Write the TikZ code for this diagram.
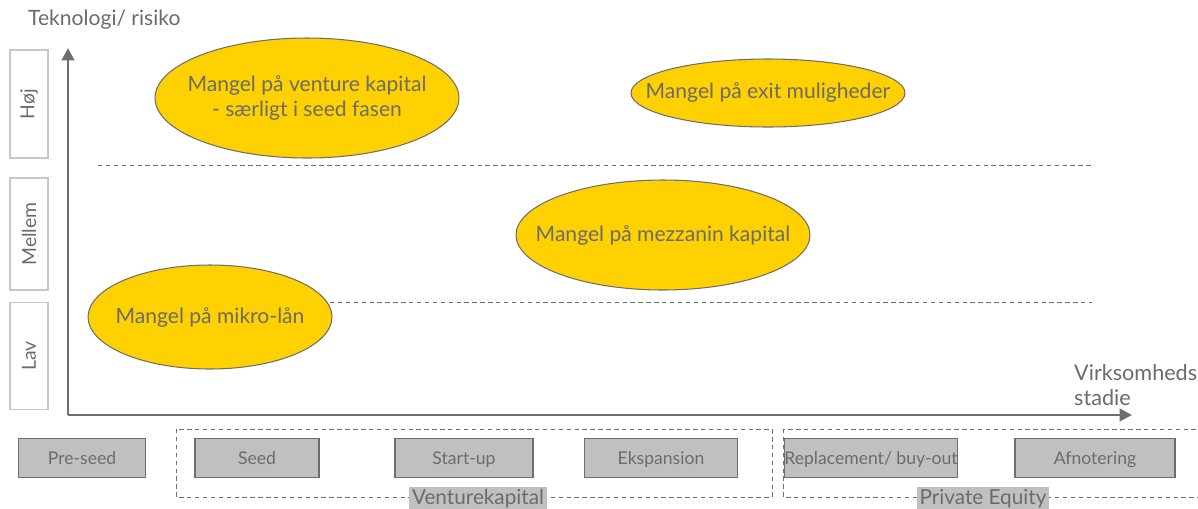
\documentclass[tikz,border=0pt]{standalone}
\usepackage{fontspec}
\setmainfont{Lato}
\usetikzlibrary{arrows.meta}

\definecolor{txtgray}{HTML}{6B6B6B}
\definecolor{axisgray}{HTML}{6E6E6E}
\definecolor{boxgray}{HTML}{C0C0C0}
\definecolor{gapyellow}{HTML}{FFD100}

\tikzset{
    level/.style={draw=black!22, line width=0.8pt, minimum width=0.76cm, inner sep=0pt, text=txtgray, font=\fontsize{11}{13}\selectfont},
    gap/.style={draw=axisgray, fill=gapyellow, line width=0.6pt},
    gaptext/.style={inner sep=0pt, text=txtgray, align=center, font=\fontsize{12}{14.5}\selectfont},
    stage/.style={draw=axisgray, fill=boxgray, line width=0.7pt, minimum height=0.78cm, inner sep=0pt, text height=1.6ex, text depth=0.2ex, text=txtgray, font=\fontsize{10}{13}\selectfont},
    group/.style={draw=axisgray, dash pattern=on 2.5pt off 2pt, line width=0.5pt},
    grouplabel/.style={fill=boxgray, inner sep=1.5pt, text=txtgray, font=\fontsize{11.8}{13}\selectfont},
    level line/.style={draw=axisgray, dash pattern=on 2.5pt off 2pt, line width=0.5pt},
}

\begin{document}
\begin{tikzpicture}[x=0.02cm, y=-0.02cm]
\useasboundingbox (0,0) rectangle (1198,508);

% axes
\coordinate (origin) at (68,415);
\coordinate (ytop) at (68,48);
\coordinate (xend) at (1132,415);
\draw[axisgray, line width=1.6pt, -{Triangle[length=7pt,width=7pt]}] (origin) -- (ytop);
\draw[axisgray, line width=1.6pt, -{Triangle[length=7pt,width=7pt]}] (origin) -- (xend);
\node[anchor=west, text=txtgray, font=\fontsize{12}{13}\selectfont] (ylab) at (22,20) {Teknologi/ risiko};
\node[anchor=west, text=txtgray, align=left, font=\fontsize{12.3}{14}\selectfont] (xlab) at (1068,385) {Virksomheds\\stadie};

% risk levels
\node[level, minimum height=2.16cm] (hoej) at (29,104) {\rotatebox{90}{Høj}};
\node[level, minimum height=2.24cm] (mellem) at (29,234) {\rotatebox{90}{Mellem}};
\node[level, minimum height=2.14cm] (lav) at (29,356) {\rotatebox{90}{Lav}};
\coordinate (hl1) at (98,165);
\coordinate (hl1e) at (1092,165);
\coordinate (hl2) at (330,302);
\coordinate (hl2e) at (1092,302);
\draw[level line] (hl1) -- (hl1e);
\draw[level line] (hl2) -- (hl2e);

% gaps in financing
\coordinate (venture) at (307,98);
\coordinate (exit) at (768,93);
\coordinate (mezz) at (663,235);
\coordinate (mikro) at (210,317);
\draw[gap] (venture) ellipse [x radius=3.04cm, y radius=1.2cm];
\draw[gap] (exit) ellipse [x radius=2.74cm, y radius=0.68cm];
\draw[gap] (mezz) ellipse [x radius=2.94cm, y radius=1.1cm];
\draw[gap] (mikro) ellipse [x radius=2.44cm, y radius=1.04cm];
\node[gaptext] (venturetext) at (venture) {Mangel på venture kapital\\- særligt i seed fasen};
\node[gaptext] (exittext) at (exit) {Mangel på exit muligheder};
\node[gaptext] (mezztext) at (mezz) {Mangel på mezzanin kapital};
\node[gaptext] (mikrotext) at (mikro) {Mangel på mikro-lån};

% stages
\foreach \cx/\w/\txt/\nm in {82/127/Pre-seed/preseed, 257/124/Seed/seed, 464/138/Start-up/startup, 661/153/Ekspansion/ekspansion, 871/143/{Replacement/ buy-out}/buyout, 1095/160/Afnotering/afnotering}
{
    \node[stage, minimum width=\w*0.02cm] (\nm) at (\cx,458) {\txt};
}

% fund types
\draw[group] (176,429) rectangle (772,497);
\draw[group] (783,429) rectangle (1210,497);
\node[grouplabel] (vk) at (478,499) {Venturekapital};
\node[grouplabel] (pe) at (983,499) {Private Equity};
\end{tikzpicture}
\end{document}
